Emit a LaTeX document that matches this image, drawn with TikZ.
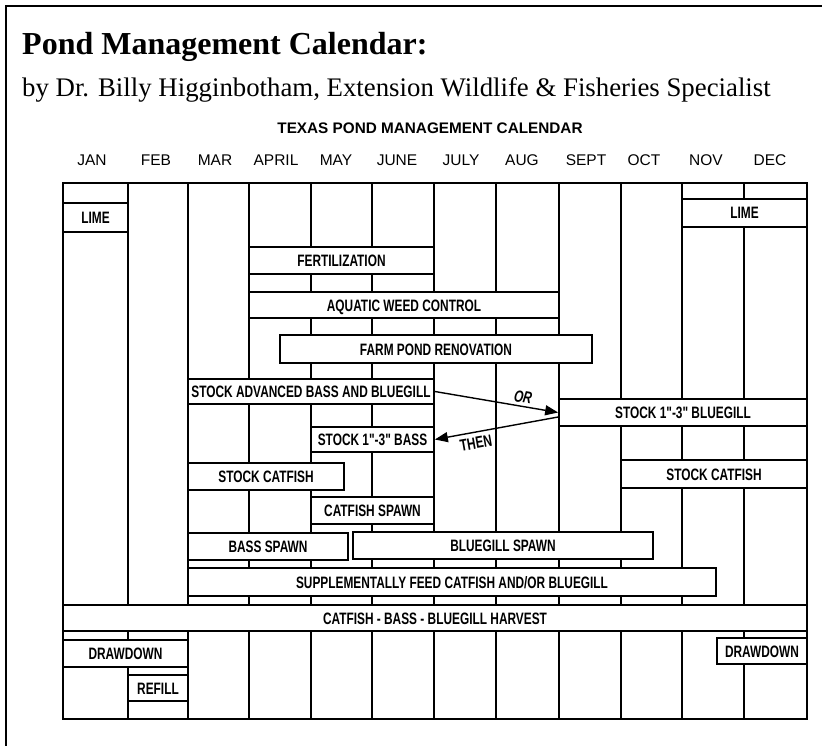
\documentclass[tikz,border=0pt]{standalone}
\usepackage{fontspec}
\setmainfont{Liberation Serif}
\newfontfamily\barfont[FakeStretch=0.72]{Liberation Sans}
\newfontfamily\headfont{Liberation Sans}
\usetikzlibrary{arrows.meta}
\tikzset{
  gridline/.style={line width=1.7pt, draw=black},
  framelinestyle/.style={line width=1.3pt, draw=black},
  bar/.style={draw=black, line width=1.7pt, fill=white, inner sep=0pt,
    text height=12pt, text depth=0pt,
    font=\barfont\bfseries\fontsize{16.5pt}{17pt}\selectfont},
  month/.style={anchor=base, inner sep=0pt, font=\headfont\fontsize{15.5pt}{16pt}\selectfont},
  caltitle/.style={anchor=base, inner sep=0pt, font=\headfont\bfseries\fontsize{15.3pt}{16pt}\selectfont},
  maintitle/.style={anchor=base west, inner sep=0pt, font=\bfseries\fontsize{32pt}{36pt}\selectfont},
  subtitle/.style={anchor=base west, inner sep=0pt, font=\fontsize{26.8pt}{30pt}\selectfont},
  arrowline/.style={line width=1.4pt, draw=black, -{Triangle[length=13pt,width=10pt]}},
  armlabel/.style={inner sep=0pt, font=\barfont\bfseries\fontsize{16.5pt}{17pt}\selectfont}
}
\newcommand\calbar[6]{%
  \node[bar, minimum width={(#3-#2)*1pt}, minimum height={(#5-#4)*1pt}]
    (#1) at ({(#2+#3)/2},{(#4+#5)/2}) {#6};}
\begin{document}
\begin{tikzpicture}[x=1pt,y=-1pt]
\useasboundingbox (0,0) rectangle (822,746);
\fill[white] (0,0) rectangle (822,746);
% frame
\draw[framelinestyle] (6,746) -- (6,6) -- (822,6);
% titles
\node[maintitle] (title) at (22,55) {Pond Management Calendar:};
\node[subtitle] (subtitle) at (22,97) {by Dr. Billy Higginbotham, Extension Wildlife \& Fisheries Specialist};
\node[caltitle] (cal) at (430,134) {TEXAS POND MANAGEMENT CALENDAR};
% months
\node[month] (mjan) at (92,166) {JAN};
\node[month] (mfeb) at (156,166) {FEB};
\node[month] (mmar) at (215,166) {MAR};
\node[month] (mapr) at (276,166) {APRIL};
\node[month] (mmay) at (336,166) {MAY};
\node[month] (mjun) at (397,166) {JUNE};
\node[month] (mjul) at (461,166) {JULY};
\node[month] (maug) at (522,166) {AUG};
\node[month] (msep) at (586,166) {SEPT};
\node[month] (moct) at (644,166) {OCT};
\node[month] (mnov) at (706,166) {NOV};
\node[month] (mdec) at (770,166) {DEC};
% grid
\draw[gridline] (63,183) rectangle (807,719);
\foreach \x in {128,188,249,311,372,434,496,559,621,682,744}
  \draw[gridline] (\x,183) -- (\x,719);
% bars
\calbar{limeA}{63}{128}{203}{232}{LIME}
\calbar{limeB}{682}{807}{199}{227}{LIME}
\calbar{fert}{249}{434}{247}{274}{FERTILIZATION}
\calbar{weed}{249}{559}{292}{318}{AQUATIC WEED CONTROL}
\calbar{farm}{280}{592}{335}{363}{FARM POND RENOVATION}
\calbar{stockadv}{188}{434}{379}{404}{STOCK ADVANCED BASS AND BLUEGILL}
\calbar{stockblue}{559}{807}{399}{426}{STOCK 1"-3" BLUEGILL}
\calbar{stockbass}{311}{434}{427}{452}{STOCK 1"-3" BASS}
\calbar{catL}{188}{344}{463}{490}{STOCK CATFISH}
\calbar{catR}{621}{807}{460}{488}{STOCK CATFISH}
\calbar{catspawn}{311}{434}{497}{524}{CATFISH SPAWN}
\calbar{bassspawn}{188}{348}{533}{560}{BASS SPAWN}
\calbar{bluespawn}{353}{653}{532}{559}{BLUEGILL SPAWN}
\calbar{feed}{188}{716}{568}{596}{SUPPLEMENTALLY FEED CATFISH AND/OR BLUEGILL}
\calbar{harvest}{63}{807}{605}{631}{CATFISH - BASS - BLUEGILL HARVEST}
\calbar{drawL}{63}{188}{640}{667}{DRAWDOWN}
\calbar{refill}{128}{188}{675}{701}{REFILL}
\calbar{drawR}{717}{807}{638}{664}{DRAWDOWN}
% arrows
\draw[arrowline] (stockadv.east) -- (stockblue.west);
\draw[arrowline] ([yshift=-4.5pt]stockblue.west) -- (stockbass.east);
\node[armlabel, rotate=-9.5] (orlabel) at (523,397) {\itshape OR};
\node[armlabel, rotate=10] (thenlabel) at (476,443) {THEN};
\end{tikzpicture}
\end{document}
